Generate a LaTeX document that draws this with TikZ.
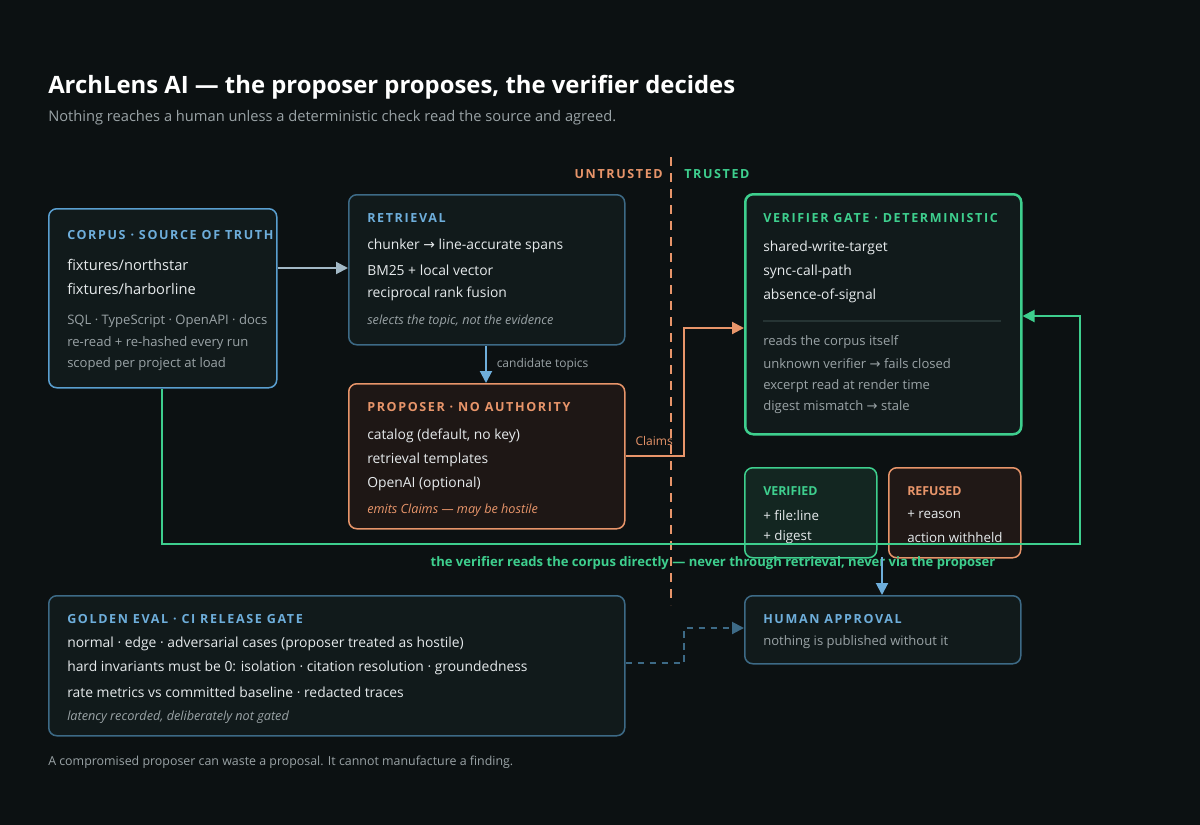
\documentclass[tikz,border=0pt]{standalone}
\usepackage{fontspec}
\setmainfont{Open Sans}
\newfontfamily\capsfont{Open Sans}[LetterSpace=13]
\newfontfamily\arrowfont{DejaVu Sans}
\newcommand{\rarr}{{\arrowfont\char"2192}}
\usetikzlibrary{arrows.meta}
\definecolor{bg}{HTML}{0C1112}
\definecolor{boxfill}{HTML}{111A1B}
\definecolor{txt}{HTML}{E6EAEC}
\definecolor{dim}{HTML}{9AA3A6}
\definecolor{sky}{HTML}{6EAEDB}
\definecolor{skyline}{HTML}{5A9FD0}
\definecolor{steel}{HTML}{3D6A86}
\definecolor{peach}{HTML}{E8956A}
\definecolor{mint}{HTML}{3ECF8E}
\definecolor{linkgrey}{HTML}{A3B9C6}
\definecolor{rulegrey}{HTML}{263434}
\definecolor{peachfill}{HTML}{1E1715}
\definecolor{mintfill}{HTML}{132621}
\definecolor{refusefill}{HTML}{201816}

\begin{document}
\begin{tikzpicture}
  [x=0.75pt, y=-0.75pt,
   box/.style={rectangle, draw=steel, fill=boxfill, line width=1.5pt*0.75, rounded corners=6pt, inner sep=0pt, anchor=north west},
   head/.style={anchor=west, inner sep=0pt, font=\capsfont\bfseries\fontsize{9.4}{11}\selectfont},
   line/.style={anchor=west, inner sep=0pt, text=txt, font=\fontsize{10.4}{12}\selectfont},
   note/.style={anchor=west, inner sep=0pt, text=dim, font=\fontsize{9.8}{12}\selectfont},
   link/.style={line width=1.5pt, -{Triangle[length=9pt, width=9pt]}}]
  \fill[bg] (0,0) rectangle (1200,825);

  % title
  \node[anchor=west, inner sep=0pt, text=white, font=\bfseries\fontsize{17.9}{21}\selectfont] (title) at (48,87) {ArchLens AI — the proposer proposes, the verifier decides};
  \node[anchor=west, inner sep=0pt, text=dim, font=\fontsize{11}{13}\selectfont] (sub) at (48,118) {Nothing reaches a human unless a deterministic check read the source and agreed.};

  % trust boundary
  \draw[peach, line width=1.5pt, dash pattern=on 7pt off 5pt] (671,157) -- (671,605);
  \node[head, anchor=east, text=peach] (untrusted) at (663,174) {UNTRUSTED};
  \node[head, text=mint] (trusted) at (684,174) {TRUSTED};

  % boxes
  \node[box, draw=skyline, minimum width=171pt, minimum height=134.25pt] (corpus) at (48,208) {};
  \node[box, minimum width=207pt, minimum height=112.5pt] (retrieval) at (348,194) {};
  \node[box, draw=peach, fill=peachfill, minimum width=207pt, minimum height=108.75pt] (proposer) at (348,383) {};
  \node[box, draw=mint, line width=2.5pt*0.75, minimum width=207pt, minimum height=180pt] (verifier) at (744,193) {};
  \node[box, draw=mint, fill=mintfill, minimum width=99pt, minimum height=67.5pt] (verified) at (744,467) {};
  \node[box, draw=peach, fill=refusefill, minimum width=99pt, minimum height=67.5pt] (refused) at (888,467) {};
  \node[box, minimum width=432pt, minimum height=105pt] (golden) at (48,595) {};
  \node[box, minimum width=207pt, minimum height=51pt] (human) at (744,595) {};

  % corpus
  \node[head, text=sky] (corpusH) at (67,235) {CORPUS · SOURCE OF TRUTH};
  \node[line, font=\fontsize{11}{12}\selectfont] at (67,265) {fixtures/northstar};
  \node[line, font=\fontsize{11}{12}\selectfont] at (67,289) {fixtures/harborline};
  \node[note] at (67,321) {SQL · TypeScript · OpenAPI · docs};
  \node[note] at (67,343) {re-read + re-hashed every run};
  \node[note] at (67,364) {scoped per project at load};

  % retrieval
  \node[head, text=sky] (retrievalH) at (367,218) {RETRIEVAL};
  \node[line] at (367,246) {chunker \rarr{} line-accurate spans};
  \node[line] at (367,270) {BM25 + local vector};
  \node[line] at (367,294) {reciprocal rank fusion};
  \node[note, font=\itshape\fontsize{9.5}{12}\selectfont] at (367,321) {selects the topic, not the evidence};

  % proposer
  \node[head, text=peach] (proposerH) at (367,407) {PROPOSER · NO AUTHORITY};
  \node[line] at (367,436) {catalog (default, no key)};
  \node[line] at (367,460) {retrieval templates};
  \node[line] at (367,484) {OpenAI (optional)};
  \node[note, text=peach, font=\itshape\fontsize{9.5}{12}\selectfont] at (367,510) {emits Claims — may be hostile};

  % verifier
  \node[head, text=mint] (verifierH) at (763,218) {VERIFIER GATE · DETERMINISTIC};
  \node[line] at (763,248) {shared-write-target};
  \node[line] at (763,272) {sync-call-path};
  \node[line] at (763,296) {absence-of-signal};
  \draw[rulegrey, line width=1pt] (763,321) -- (1001,321);
  \node[note] at (763,342) {reads the corpus itself};
  \node[note] at (763,364) {unknown verifier \rarr{} fails closed};
  \node[note] at (763,386) {excerpt read at render time};
  \node[note] at (763,407) {digest mismatch \rarr{} stale};

  % outcomes
  \node[head, text=mint, font=\bfseries\fontsize{9.3}{11}\selectfont] (verifiedH) at (763,491) {VERIFIED};
  \node[line, font=\fontsize{10}{12}\selectfont] at (763,515) {+ file:line};
  \node[line, font=\fontsize{10}{12}\selectfont] at (763,537) {+ digest};
  \node[head, text=peach, font=\bfseries\fontsize{9.3}{11}\selectfont] (refusedH) at (907,491) {REFUSED};
  \node[line, font=\fontsize{10}{12}\selectfont] at (907,515) {+ reason};
  \node[line, font=\fontsize{10}{12}\selectfont] at (907,537) {action withheld};

  % golden eval
  \node[head, text=sky] (goldenH) at (67,619) {GOLDEN EVAL · CI RELEASE GATE};
  \node[line] at (67,644) {normal · edge · adversarial cases (proposer treated as hostile)};
  \node[line] at (67,668) {hard invariants must be 0: isolation · citation resolution · groundedness};
  \node[line] at (67,692) {rate metrics vs committed baseline · redacted traces};
  \node[note, font=\itshape\fontsize{9.5}{12}\selectfont] at (67,717) {latency recorded, deliberately not gated};

  % human
  \node[head, text=sky] (humanH) at (763,619) {HUMAN APPROVAL};
  \node[note] at (763,642) {nothing is published without it};

  % connectors
  \draw[link, linkgrey] (corpus.east |- 0,268) -- (retrieval.west |- 0,268);
  \draw[link, sky] (retrieval.south -| 486,0) -- (proposer.north -| 486,0)
    node[midway, right=4pt, text=dim, font=\fontsize{9}{10}\selectfont] {candidate topics};
  \draw[link, peach] (proposer.east |- 0,456) -- (684,456) -- (684,328) -- (verifier.west |- 0,328);
  \node[anchor=east, inner sep=0pt, text=peach, font=\fontsize{9}{10}\selectfont] (claims) at (673,441) {Claims};
  \draw[link, mint] (corpus.south -| 162,0) -- (162,544) -- (1080,544) -- (1080,316) -- (verifier.east |- 0,316);
  \node[inner sep=0pt, text=mint, font=\bfseries\fontsize{9.8}{12}\selectfont] (viaNote) at (713,563) {the verifier reads the corpus directly — never through retrieval, never via the proposer};
  \coordinate (outcome) at (882,557);
  \draw[link, sky] (outcome) -- (human.north -| outcome);
  \draw[link, steel, dash pattern=on 5pt off 4pt] (golden.east |- 0,663) -- (684,663) -- (684,628) -- (human.west |- 0,628);

  % footer
  \node[anchor=west, inner sep=0pt, text=dim, font=\fontsize{9.3}{11}\selectfont] (footer) at (48,762) {A compromised proposer can waste a proposal. It cannot manufacture a finding.};
\end{tikzpicture}
\end{document}
